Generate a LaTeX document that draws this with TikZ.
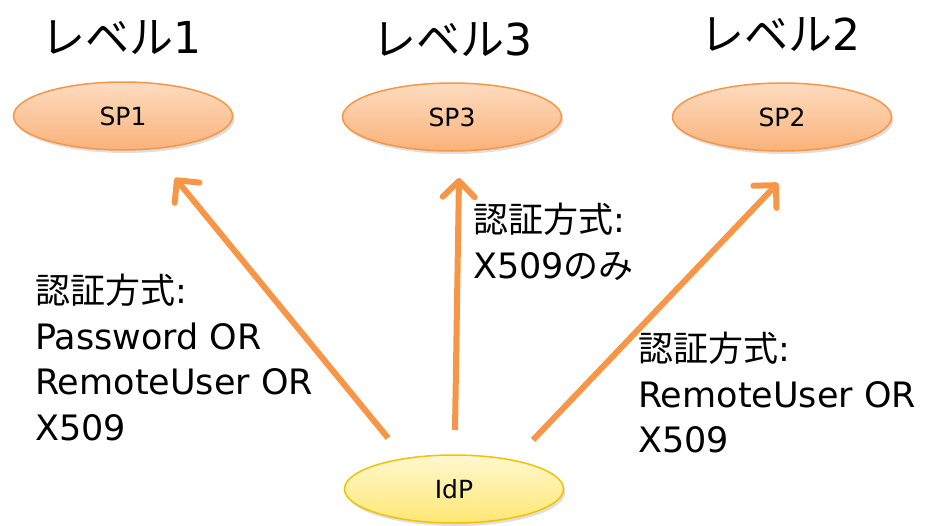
\documentclass[tikz,border=0pt]{standalone}
\usepackage{fontspec}
\setmainfont{DejaVu Sans}
\newfontfamily\jp{Noto Sans CJK JP}
\usetikzlibrary{arrows.meta,shadows,shapes.geometric}
\definecolor{arrowor}{HTML}{F79646}
\definecolor{spedge}{HTML}{F79646}
\definecolor{sptop}{HTML}{FDDCC0}
\definecolor{spbot}{HTML}{FAB27A}
\definecolor{idpedge}{HTML}{F2C200}
\definecolor{idptop}{HTML}{FFF8CF}
\definecolor{idpbot}{HTML}{FFE774}
\newcommand\jpsize{\fontsize{35}{45.5}\selectfont}
\tikzset{
  party/.style={ellipse, minimum width=219pt, minimum height=68pt, line width=1.5pt,
    font=\fontsize{25}{28}\selectfont, drop shadow={opacity=0.25, shadow xshift=2pt, shadow yshift=-3pt}},
  sp/.style={party, draw=spedge, top color=sptop, bottom color=spbot},
  idp/.style={party, draw=idpedge, top color=idptop, bottom color=idpbot},
  level/.style={font=\fontsize{44}{48}\selectfont, inner sep=0pt, anchor=base},
  authlabel/.style={font=\fontsize{35}{45.5}\selectfont, align=left, anchor=north west, inner sep=0pt},
  flow/.style={draw=arrowor, line width=6pt, -{Straight Barb[length=16pt, width=32pt, line cap=round, line join=round]}}
}
\begin{document}
\begin{tikzpicture}[x=1pt,y=-1pt]
  \useasboundingbox (0,0) rectangle (925,525);
  % service providers and identity provider
  \node[sp] (sp1) at (123,116) {SP1};
  \node[sp] (sp3) at (452,117) {SP3};
  \node[sp] (sp2) at (782,117) {SP2};
  \node[idp] (idp) at (454,489) {IdP};
  % assurance levels
  \node[level] (lv1) at (121,53) {{\jp レベル}1};
  \node[level] (lv3) at (452,55) {{\jp レベル}3};
  \node[level] (lv2) at (780,50) {{\jp レベル}2};
  % connection endpoints
  \coordinate (s1) at (388,438);
  \coordinate (e1) at (175,178);
  \coordinate (s3) at (455,430);
  \coordinate (e3) at (459,178);
  \coordinate (s2) at (533,440);
  \coordinate (e2) at (778,183);
  \draw[flow] (s1) -- (e1);
  \draw[flow] (s3) -- (e3);
  \draw[flow] (s2) -- (e2);
  % allowed authentication methods
  \node[authlabel] (m1) at (35,274) {{\jp\jpsize 認証方式}:\\Password OR\\RemoteUser OR\\X509};
  \node[authlabel] (m3) at (473,203) {{\jp\jpsize 認証方式}:\\X509{\jp\jpsize のみ}};
  \node[authlabel] (m2) at (638,332) {{\jp\jpsize 認証方式}:\\RemoteUser OR\\X509};
\end{tikzpicture}
\end{document}
